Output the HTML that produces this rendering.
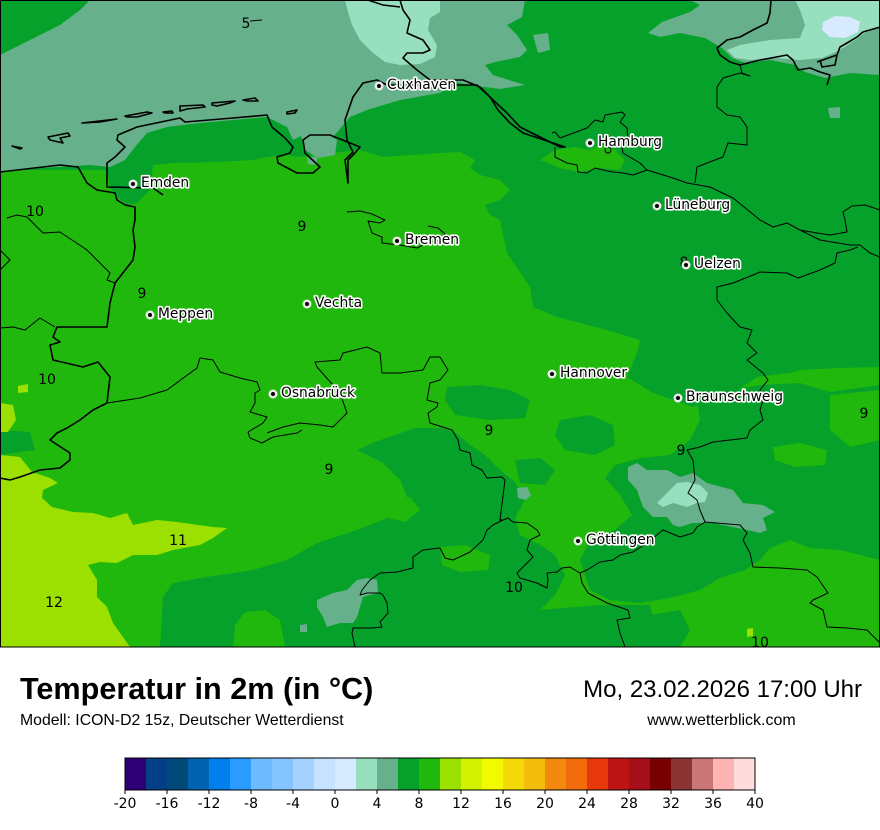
<!DOCTYPE html>
<html><head><meta charset="utf-8"><style>
html,body{margin:0;padding:0;background:#fff;}
svg{display:block;}
.c{font-family:"DejaVu Sans","Liberation Sans",sans-serif;font-size:13.8px;fill:#000;stroke:#fff;stroke-width:3.2;paint-order:stroke;stroke-linejoin:round;}
.n{font-family:"DejaVu Sans","Liberation Sans",sans-serif;font-size:14px;fill:#000;text-anchor:middle;}
</style></head><body>
<svg width="880" height="830" viewBox="0 0 880 830" xmlns="http://www.w3.org/2000/svg">
<rect x="0" y="0" width="880" height="830" fill="#fff"/>
<g>
<rect x="0" y="0" width="880" height="647" fill="#20b80c"/>
<polygon fill="#06a12a" points="0,0 880,0 880,367 840,368 800,370 790,373 757,377 733,393 713,397 693,407 653,393 627,377 637,353 640,340 607,330 580,323 557,317 533,307 530,287 507,253 500,220 490,215 485,205 500,200 510,190 500,180 480,175 470,168 475,160 460,152 440,153 383,157 360,150 333,153 300,157 287,155 267,157 253,160 217,162 173,163 153,165 150,190 137,203 127,205 117,197 110,187 107,170 0,170"/>
<polygon fill="#20b80c" points="540,160 555,150 575,147 590,150 600,145 615,150 625,160 620,170 600,168 580,172 560,168"/>
<polygon fill="#06a12a" points="160,647 163,597 173,583 207,577 253,570 287,560 317,543 357,530 390,517 407,497 400,480 383,463 357,450 375,442 395,435 415,428 440,428 455,432 470,445 485,455 500,470 515,482 525,500 515,518 520,535 540,545 555,555 565,575 555,595 540,610 545,630 540,647"/>
<polygon fill="#06a12a" points="0,430 30,432 35,450 0,455"/>
<polygon fill="#20b80c" points="233,647 235,625 245,612 265,610 280,620 285,647"/>
<polygon fill="#20b80c" points="440,547 465,545 490,555 488,570 460,572 442,565"/>
<polygon fill="#20b80c" points="385,500 410,497 420,510 405,522 388,518"/>
<polygon fill="#06a12a" points="560,420 590,415 613,425 615,445 595,455 565,450 555,435"/>
<polygon fill="#06a12a" points="515,460 540,458 555,470 545,485 520,483"/>
<polygon fill="#06a12a" points="447,387 480,385 510,390 530,400 525,418 490,420 455,415 445,400"/>
<polygon fill="#06a12a" points="697,400 720,392 760,385 800,383 830,392 880,385 880,560 860,555 840,550 810,548 790,540 770,548 760,560 745,570 720,578 700,590 670,598 640,603 610,600 590,590 580,560 590,540 615,530 632,515 620,495 605,478 615,465 640,458 670,455 690,440 700,420"/>
<polygon fill="#06a12a" points="540,610 600,605 650,605 660,647 540,647"/>
<polygon fill="#06a12a" points="650,615 680,610 690,630 680,647 650,647"/>
<polygon fill="#20b80c" points="830,395 880,390 880,440 850,447 830,430"/>
<polygon fill="#20b80c" points="773,447 800,443 827,450 825,465 795,467 775,460"/>
<polygon fill="#66b08c" points="0,55 20,45 60,25 80,10 90,0 525,0 522,17 507,25 517,35 527,50 520,57 495,62 485,65 493,75 525,85 500,89 470,85 455,82 440,93 400,100 367,110 350,117 333,137 307,133 293,140 287,127 267,117 233,120 200,123 167,127 147,133 135,147 125,160 110,167 90,165 40,168 0,172"/>
<polygon fill="#66b08c" points="300,132 320,130 337,140 335,155 318,158 305,150"/>
<polygon fill="#66b08c" points="307,157 317,157 317,165 308,164"/>
<polygon fill="#66b08c" points="533,35 548,33 550,50 538,53"/>
<polygon fill="#66b08c" points="828,108 840,107 840,118 830,118"/>
<polygon fill="#66b08c" points="650,0 880,0 880,75 850,73 825,78 805,72 795,65 770,60 745,63 732,58 722,48 705,38 680,33 660,37 648,33 662,22 690,12 700,5 690,0"/>
<polygon fill="#98dfc0" points="345,0 440,0 440,12 430,18 428,30 437,45 435,57 420,64 400,65 385,62 372,52 360,40 352,25 348,12"/>
<polygon fill="#98dfc0" points="727,50 740,45 770,40 800,38 805,25 800,10 795,0 880,0 880,27 865,33 852,42 840,50 822,58 800,60 775,58 750,60 735,58"/>
<polygon fill="#d8eaff" points="823,22 835,16 850,17 860,22 858,32 845,38 830,37 822,30"/>
<polygon fill="#66b08c" points="628,467 637,463 647,470 667,470 680,477 693,473 707,483 733,490 743,503 763,505 775,512 763,518 767,530 760,533 747,530 733,527 713,523 693,523 680,527 673,525 667,517 653,517 643,507 637,490 628,480"/>
<polygon fill="#98dfc0" points="657,503 667,493 677,483 687,482 700,485 708,493 705,502 697,503 687,507 673,503 663,507"/>
<polygon fill="#66b08c" points="517,488 527,487 531,495 526,500 518,498"/>
<polygon fill="#66b08c" points="317,600 333,593 347,590 357,580 367,578 377,580 378,593 363,597 360,607 357,617 353,623 340,623 327,627 323,617 317,607"/>
<polygon fill="#66b08c" points="300,625 307,624 307,632 300,632"/>
<polygon fill="#9be000" points="0,455 20,457 32,472 50,478 58,483 43,490 42,498 52,507 73,512 93,513 110,518 127,513 133,525 157,520 177,522 213,527 227,528 213,538 200,545 173,550 157,555 133,555 117,563 100,562 88,565 97,580 97,597 107,607 113,623 123,637 130,647 0,647"/>
<polygon fill="#9be000" points="0,403 13,405 16,420 8,432 0,432"/>
<polygon fill="#9be000" points="18,386 28,384 28,392 18,393"/>
<polygon fill="#9be000" points="747,629 753,628 753,636 747,637"/>
</g>
<g fill="none" stroke="#000" stroke-width="1.6" stroke-linejoin="round">
<polyline points="0,172 60,165 78,167 87,183 97,190 115,193 117,200 125,205 135,207 135,220 133,230 135,247 133,260 115,283 110,303 107,327 57,327 53,337 60,342 50,345 53,360 83,367 98,362 110,377 107,403 93,410 80,420 67,428 57,433 50,440 70,453 70,460 60,468 40,470 20,477 10,480 0,478"/>
<polyline points="163,195 153,188 107,187 107,163 115,157 125,147 117,140 118,135 137,127 180,118 185,122 233,118 267,115 272,127 285,138 293,147 290,153 277,157 278,163 297,173 313,173 320,167 305,153 303,140 310,135 330,135 350,143 360,147 355,153 348,160 348,183 345,160 353,152 347,140 345,120 353,97 363,83 377,80 387,85 440,85 460,85 477,85 490,97 498,110 510,123 523,133 550,142 565,147 560,147 540,137 520,127 507,113 493,100 480,87 463,80 440,80 430,80 417,70 403,58 407,53 423,53 430,50 423,40 407,33 410,20 403,10 400,0"/>
<polyline points="368,0 383,5 400,7"/>
<polyline points="771,0 770,13 767,23 753,30 740,37 727,40 717,48 720,55 730,62 740,65 760,60 787,55 793,60 798,70 810,68 820,72 830,75 827,85"/>
<polyline points="817,62 837,55 840,47 847,43 857,37 863,32 880,27"/>
<polyline points="820,60 822,67 835,65 837,55"/>
<polygon points="12,146 22,148 20,149"/>
<polygon points="48,137 68,133 70,136 60,138 63,143 50,140"/>
<polygon points="82,123 117,119 100,122"/>
<polygon points="125,116 147,112 152,113 137,117 127,117"/>
<polygon points="163,112 172,111 173,113 165,113"/>
<polygon points="180,106 203,105 205,107 187,109 180,111"/>
<polygon points="212,103 235,101 230,103 217,106 212,105"/>
<polygon points="243,100 255,98 258,101 247,101"/>
<polygon points="287,112 297,110 295,113 287,114"/>
</g>
<g fill="none" stroke="#000" stroke-width="1" stroke-linejoin="round">
<polyline points="552,133 555,132 560,138 587,128 595,120 603,122 605,115 622,112 625,115 620,122 627,128 628,140 622,147 623,153 640,163 647,170"/>
<polyline points="555,147 555,157 567,163 577,165 578,172 587,173 595,168 603,170 613,172 623,173 633,175 647,170 673,178 687,183 710,187 733,198 760,220"/>
<polyline points="695,183 697,167 707,163 723,157 728,143 747,145 747,127 740,117 727,115 717,107 717,87 723,78 740,73 750,76 742,73 740,65"/>
<polyline points="760,220 773,227 787,223 800,230 817,233 830,235 847,232 845,220 843,212 852,206 865,205 880,210"/>
<polyline points="800,230 820,240 850,245 860,245 870,253 880,257"/>
<polyline points="858,247 850,250 837,253 835,263 820,270 798,278 787,273 760,272 753,275 733,283 717,287 717,300 727,313 740,327 752,330 747,343 757,353 747,360 763,373 768,380 760,390 763,400 760,410 763,420 750,430 747,438 713,442 700,447 687,450 693,460 695,480 688,493 697,500 700,510 705,522"/>
<polyline points="580,573 587,570 600,562 613,560 620,555 633,552 647,543 663,530 680,537 693,533 697,527 705,522 740,525 747,533 743,540 750,553 753,567 780,568 807,570 817,577 828,593 813,600 810,603 823,610 827,627 847,628 867,630 880,643"/>
<polyline points="580,573 582,583 588,593 607,603 628,610 630,618 617,620 620,633 625,647"/>
<polyline points="580,573 570,567 562,568 557,572 547,573 548,580 547,588 537,583 520,578 517,573 527,563 533,557 527,550 530,540 540,535 537,530 527,523 513,522 508,518 503,520 493,525 487,530 483,540 470,552 453,560 445,558 440,548 423,550 413,557 413,568 397,572 380,573 370,580 362,590 360,595 367,593 380,593 383,595 387,603 388,613 380,622 382,627 373,628 353,628 352,633 355,647"/>
<polyline points="503,520 500,520 505,480 502,477 487,478 482,470 472,465 470,453 460,450 458,440 452,430 430,423 428,413 437,407 438,403 427,400 430,383 440,380 448,370 440,357 430,357 423,370 400,373 382,373 380,353 367,347 343,353 340,360 315,362 317,367 340,393 347,413 333,427 320,425 300,423 283,427 267,433"/>
<polyline points="107,403 140,398 167,390 197,368 200,358 213,360 220,372 240,378 257,382 260,390 255,393 255,403 250,412 267,417 263,423 248,432 250,438 262,443 273,437 297,433 302,430"/>
<polyline points="7,218 17,215 27,217 30,220 43,233 60,232 87,250 110,273 107,280 115,283"/>
<polyline points="0,250 10,260 0,270"/>
<polyline points="0,328 13,327 25,330 40,318 55,327"/>
<polyline points="347,212 360,211 372,214 385,220 380,223 368,221 372,233 382,237 382,243 400,245 417,248 427,243 440,240 445,234 438,228 428,226"/>
<polyline points="250,21 262,20"/>
<circle cx="608" cy="150" r="3"/>
</g>
<rect x="0.5" y="0.5" width="879" height="646.5" fill="none" stroke="#000" stroke-width="1"/>
<g class="n">
<text x="246" y="28">5</text>
<text x="35" y="216">10</text>
<text x="302" y="231">9</text>
<text x="142" y="298">9</text>
<text x="47" y="384">10</text>
<text x="684" y="267">8</text>
<text x="864" y="418">9</text>
<text x="489" y="435">9</text>
<text x="681" y="455">9</text>
<text x="329" y="474">9</text>
<text x="178" y="545">11</text>
<text x="514" y="592">10</text>
<text x="54" y="607">12</text>
<text x="760" y="647">10</text>
</g>
<g>
<g fill="#ececec"><circle cx="379" cy="86" r="4.5"/><circle cx="590" cy="143" r="4.5"/><circle cx="133" cy="184" r="4.5"/><circle cx="657" cy="206" r="4.5"/><circle cx="397" cy="241" r="4.5"/><circle cx="686" cy="265" r="4.5"/><circle cx="307" cy="304" r="4.5"/><circle cx="150" cy="315" r="4.5"/><circle cx="552" cy="374" r="4.5"/><circle cx="273" cy="394" r="4.5"/><circle cx="678" cy="398" r="4.5"/><circle cx="578" cy="541" r="4.5"/></g>
<g fill="#000"><circle cx="379" cy="86" r="2"/><circle cx="590" cy="143" r="2"/><circle cx="133" cy="184" r="2"/><circle cx="657" cy="206" r="2"/><circle cx="397" cy="241" r="2"/><circle cx="686" cy="265" r="2"/><circle cx="307" cy="304" r="2"/><circle cx="150" cy="315" r="2"/><circle cx="552" cy="374" r="2"/><circle cx="273" cy="394" r="2"/><circle cx="678" cy="398" r="2"/><circle cx="578" cy="541" r="2"/></g>
<text class="c" x="387" y="89">Cuxhaven</text>
<text class="c" x="598" y="146">Hamburg</text>
<text class="c" x="141" y="187">Emden</text>
<text class="c" x="665" y="209">Lüneburg</text>
<text class="c" x="405" y="244">Bremen</text>
<text class="c" x="694" y="268">Uelzen</text>
<text class="c" x="315" y="307">Vechta</text>
<text class="c" x="158" y="318">Meppen</text>
<text class="c" x="560" y="377">Hannover</text>
<text class="c" x="281" y="397">Osnabrück</text>
<text class="c" x="686" y="401">Braunschweig</text>
<text class="c" x="586" y="544">Göttingen</text>
</g>
<text x="20" y="699" font-family="Liberation Sans, Arial, sans-serif" font-weight="bold" font-size="30.6" fill="#000">Temperatur in 2m (in °C)</text>
<text x="20" y="725" font-family="Liberation Sans, Arial, sans-serif" font-size="15.8" fill="#000">Modell: ICON-D2 15z, Deutscher Wetterdienst</text>
<text x="862" y="697" text-anchor="end" font-family="Liberation Sans, Arial, sans-serif" font-size="24" fill="#000">Mo, 23.02.2026 17:00 Uhr</text>
<text x="721.5" y="725" text-anchor="middle" font-family="Liberation Sans, Arial, sans-serif" font-size="16" fill="#000">www.wetterblick.com</text>
<g>
<rect x="125" y="758" width="21" height="32" fill="#2e0078"/>
<rect x="146" y="758" width="21" height="32" fill="#023f86"/>
<rect x="167" y="758" width="21" height="32" fill="#004a7a"/>
<rect x="188" y="758" width="21" height="32" fill="#0063b0"/>
<rect x="209" y="758" width="21" height="32" fill="#0080ec"/>
<rect x="230" y="758" width="21" height="32" fill="#2a9bff"/>
<rect x="251" y="758" width="21" height="32" fill="#6fbbff"/>
<rect x="272" y="758" width="21" height="32" fill="#85c5ff"/>
<rect x="293" y="758" width="21" height="32" fill="#a6d2ff"/>
<rect x="314" y="758" width="21" height="32" fill="#c6e2ff"/>
<rect x="335" y="758" width="21" height="32" fill="#d8eaff"/>
<rect x="356" y="758" width="21" height="32" fill="#98dfc0"/>
<rect x="377" y="758" width="21" height="32" fill="#66b08c"/>
<rect x="398" y="758" width="21" height="32" fill="#06a12a"/>
<rect x="419" y="758" width="21" height="32" fill="#20b80c"/>
<rect x="440" y="758" width="21" height="32" fill="#9be000"/>
<rect x="461" y="758" width="21" height="32" fill="#d3f200"/>
<rect x="482" y="758" width="21" height="32" fill="#f2fa00"/>
<rect x="503" y="758" width="21" height="32" fill="#f3da08"/>
<rect x="524" y="758" width="21" height="32" fill="#f5bd0b"/>
<rect x="545" y="758" width="21" height="32" fill="#f38a0f"/>
<rect x="566" y="758" width="21" height="32" fill="#f26b0c"/>
<rect x="587" y="758" width="21" height="32" fill="#e6380b"/>
<rect x="608" y="758" width="21" height="32" fill="#bc1414"/>
<rect x="629" y="758" width="21" height="32" fill="#a50f1a"/>
<rect x="650" y="758" width="21" height="32" fill="#780000"/>
<rect x="671" y="758" width="21" height="32" fill="#8a3434"/>
<rect x="692" y="758" width="21" height="32" fill="#c87676"/>
<rect x="713" y="758" width="21" height="32" fill="#ffb4b4"/>
<rect x="734" y="758" width="21" height="32" fill="#ffdcdc"/>
<rect x="125" y="758" width="630" height="32" fill="none" stroke="#000" stroke-width="1"/>
<g stroke="#000" stroke-width="1">
<line x1="125" y1="790" x2="125" y2="794"/><line x1="167" y1="790" x2="167" y2="794"/><line x1="209" y1="790" x2="209" y2="794"/><line x1="251" y1="790" x2="251" y2="794"/><line x1="293" y1="790" x2="293" y2="794"/><line x1="335" y1="790" x2="335" y2="794"/><line x1="377" y1="790" x2="377" y2="794"/><line x1="419" y1="790" x2="419" y2="794"/><line x1="461" y1="790" x2="461" y2="794"/><line x1="503" y1="790" x2="503" y2="794"/><line x1="545" y1="790" x2="545" y2="794"/><line x1="587" y1="790" x2="587" y2="794"/><line x1="629" y1="790" x2="629" y2="794"/><line x1="671" y1="790" x2="671" y2="794"/><line x1="713" y1="790" x2="713" y2="794"/><line x1="755" y1="790" x2="755" y2="794"/>
</g>
<g class="n">
<text x="125" y="808">-20</text><text x="167" y="808">-16</text><text x="209" y="808">-12</text><text x="251" y="808">-8</text><text x="293" y="808">-4</text><text x="335" y="808">0</text><text x="377" y="808">4</text><text x="419" y="808">8</text><text x="461" y="808">12</text><text x="503" y="808">16</text><text x="545" y="808">20</text><text x="587" y="808">24</text><text x="629" y="808">28</text><text x="671" y="808">32</text><text x="713" y="808">36</text><text x="755" y="808">40</text>
</g>
</g>
</svg>
</body></html>
